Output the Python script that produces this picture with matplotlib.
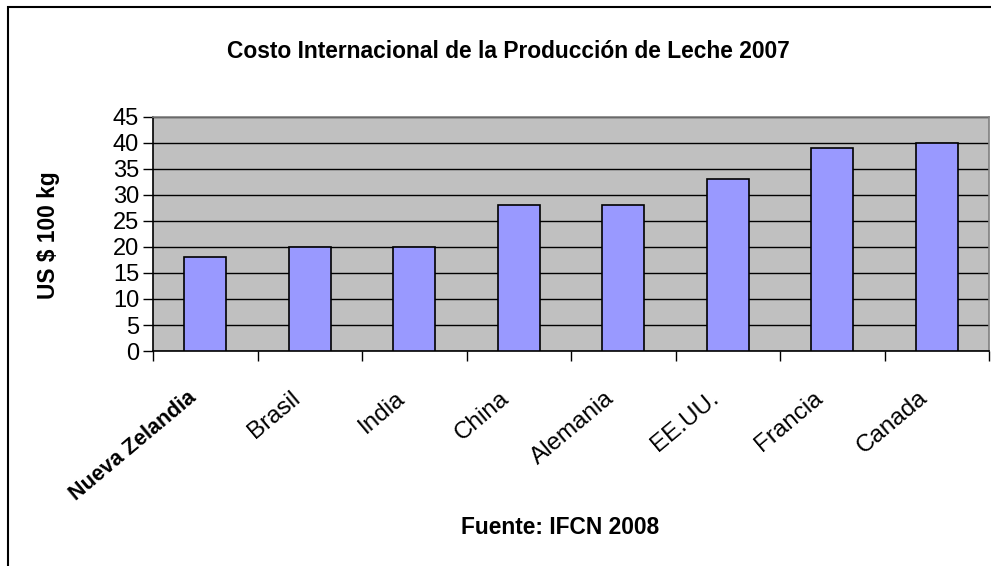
import matplotlib
matplotlib.use('Agg')
from matplotlib import pyplot as plt
from matplotlib.patches import Rectangle
from matplotlib.transforms import ScaledTranslation

# Datos del gráfico
paises = ['Nueva Zelandia', 'Brasil', 'India', 'China', 'Alemania', 'EE.UU.', 'Francia', 'Canada']
costos = [18, 20, 20, 28, 28, 33, 39, 40]
yticks = [0, 5, 10, 15, 20, 25, 30, 35, 40, 45]

plt.rcParams['font.family'] = ['Liberation Sans', 'DejaVu Sans']

W, H = 991, 566
fig = plt.figure(figsize=(W / 100, H / 100), dpi=100)

# marco exterior
fig.patches.append(Rectangle((8 / W, -0.1), 2, 1.1 - 7 / H, transform=fig.transFigure,
                             fill=False, edgecolor='black', linewidth=1.5))

ax = fig.add_axes([153 / W, 1 - 351 / H, (989 - 153) / W, (351 - 117) / H])
ax.set_facecolor('#C0C0C0')

x = list(range(len(paises)))
ax.bar(x, costos, width=0.4, color='#9999FF', edgecolor='black', linewidth=1.2, zorder=3)

ax.set_xlim(-0.5, len(paises) - 0.5)
ax.set_ylim(0, 45)
ax.set_yticks(yticks)
ax.set_yticklabels([str(v) for v in yticks], fontsize=17)
ax.yaxis.grid(True, color='black', linewidth=1, zorder=1)
ax.set_axisbelow(True)

# marcas del eje x entre categorías
ax.set_xticks([i - 0.5 for i in range(len(paises) + 1)])
ax.set_xticklabels([])
ax.tick_params(axis='both', which='major', length=7, width=1, color='black', direction='out')
ax.tick_params(axis='y', pad=3)

# etiquetas de categorías (inclinadas)
offset = ScaledTranslation(-8.6 / 72, -32 / 72, fig.dpi_scale_trans)
for i, nombre in enumerate(paises):
    negrita = i == 0
    ax.text(i, 0, nombre, transform=ax.get_xaxis_transform() + offset,
            rotation=40, rotation_mode='anchor', ha='right', va='center',
            fontsize=15.5 if negrita else 17.5,
            fontweight='bold' if negrita else 'normal')

for s in ['left', 'bottom']:
    ax.spines[s].set_color('black')
    ax.spines[s].set_linewidth(1.2)
for s in ['top', 'right']:
    ax.spines[s].set_color('#808080')
    ax.spines[s].set_linewidth(1.2)

fig.text(508 / W, 1 - 52 / H, 'Costo Internacional de la Producción de Leche 2007',
         ha='center', va='center', fontsize=16.4, fontweight='bold')
fig.text(48 / W, 1 - 235 / H, 'US $ 100 kg', rotation=90, ha='center', va='center',
         fontsize=16.4, fontweight='bold')
fig.text(560 / W, 1 - 528 / H, 'Fuente: IFCN 2008', ha='center', va='center',
         fontsize=16.4, fontweight='bold')

fig.savefig('out.png', dpi=100)
